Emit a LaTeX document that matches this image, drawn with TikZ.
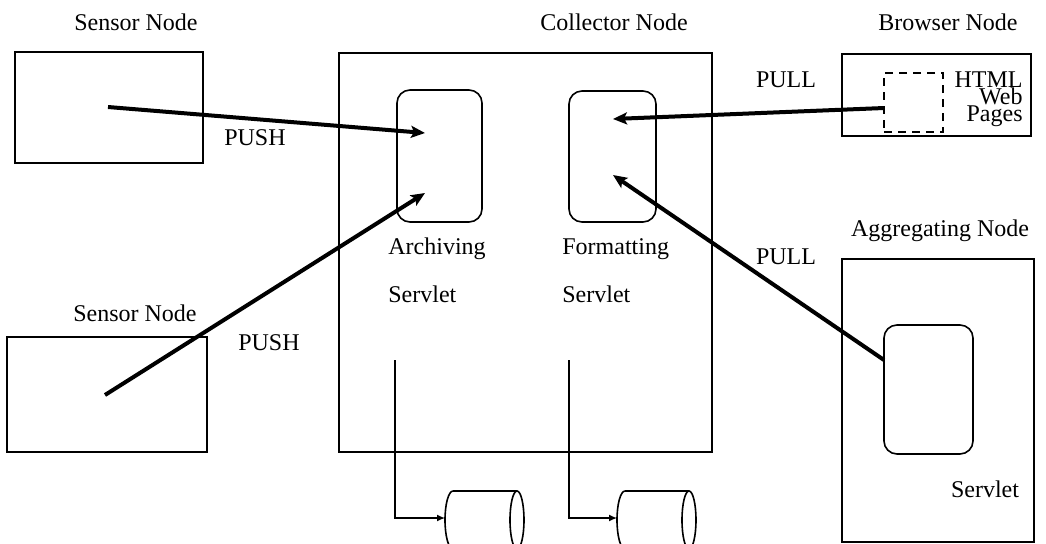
\documentclass[tikz,border=0pt]{standalone}
\usepackage{fontspec}
\setmainfont{Liberation Serif}
\usetikzlibrary{arrows.meta}

\begin{document}
\begin{tikzpicture}[
  x=0.5pt, y=-0.5pt,
  font=\fontsize{12}{14}\selectfont,
  nodebox/.style={draw,line width=0.8pt,inner sep=0pt},
  servlet/.style={nodebox,rounded corners=6.5pt},
  pages/.style={nodebox,dash pattern=on 4pt off 3pt},
  lbl/.style={anchor=base,inner sep=0pt},
  servtext/.style={anchor=base west,inner sep=0pt},
  flow/.style={-{Stealth[length=7pt,width=6pt,inset=1.5pt]},line width=2pt},
  store/.style={-{Latex[length=4pt,width=3.5pt]},line width=0.7pt},
  disk/.style={line width=0.8pt}
]
\useasboundingbox (0,0) rectangle (1046,543);

% boxes
\node[nodebox,minimum width=94pt,minimum height=55.5pt] (sensA) at (109,107.5) {};
\node[nodebox,minimum width=100pt,minimum height=57.5pt] (sensB) at (107,394.5) {};
\node[nodebox,minimum width=186.5pt,minimum height=199.5pt] (coll) at (525.5,252.5) {};
\node[servlet,minimum width=42.5pt,minimum height=66pt] (arch) at (439.5,156) {};
\node[servlet,minimum width=43.5pt,minimum height=65.5pt] (fmt) at (612.5,156.5) {};
\node[nodebox,minimum width=94.5pt,minimum height=41pt] (brow) at (936.5,95) {};
\node[pages,minimum width=29.5pt,minimum height=29.5pt] (html) at (913.5,102.5) {};
\node[nodebox,minimum width=96pt,minimum height=141.5pt] (aggr) at (938,400.5) {};
\node[servlet,minimum width=44.5pt,minimum height=64.5pt] (aggserv) at (928.5,389.5) {};

% labels
\node[lbl] (sensAlbl) at (136,30) {Sensor Node};
\node[lbl] (sensBlbl) at (135,321) {Sensor Node};
\node[lbl] (colllbl) at (614,30) {Collector Node};
\node[lbl] (browlbl) at (948,30) {Browser Node};
\node[lbl] (aggrlbl) at (940,236) {Aggregating Node};
\node[lbl] (pushA) at (255,145) {PUSH};
\node[lbl] (pushB) at (269,350) {PUSH};
\node[lbl] (pullA) at (786,87) {PULL};
\node[lbl] (pullB) at (786,264) {PULL};
\node[servtext] (archA) at (388,254) {Archiving};
\node[servtext] (archB) at (388,302) {Servlet};
\node[servtext] (fmtA) at (562,254) {Formatting};
\node[servtext] (fmtB) at (562,302) {Servlet};
\node[lbl] (agglbl) at (985,497) {Servlet};
\node[anchor=north east,inner sep=0pt,align=right,font=\fontsize{12}{8.7}\selectfont] (htmllbl) at (1023,71) {HTML\\Web\\Pages};

% end points
\coordinate (sAout) at (108,107);
\coordinate (sBout) at (105,395);
\coordinate (archinA) at (425,133);
\coordinate (archinB) at (425,193);
\coordinate (htmlout) at (884,108);
\coordinate (aggout) at (884,360);
\coordinate (fmtinA) at (613,119);
\coordinate (fmtinB) at (613,175);
\coordinate (archout) at (395,360);
\coordinate (fmtout) at (569,360);

% storage cylinders
\begin{scope}
\clip (0,0) rectangle (1046,543);
\foreach \cx/\dbname in {453/archdb,625/fmtdb}{
  \draw[disk] (\cx,491) arc[start angle=270,end angle=90,x radius=8,y radius=29] -- ++(64,0)
    (\cx,491) -- ++(64,0);
  \draw[disk] (\cx+64,520) ellipse[x radius=7,y radius=29];
  \coordinate (\dbname) at (\cx-8,518);
}
\end{scope}

\draw[flow] (sAout) -- (archinA);
\draw[flow] (sBout) -- (archinB);
\draw[flow] (htmlout) -- (fmtinA);
\draw[flow] (aggout) -- (fmtinB);
\draw[store] (archout) |- (archdb);
\draw[store] (fmtout) |- (fmtdb);
\end{tikzpicture}
\end{document}
